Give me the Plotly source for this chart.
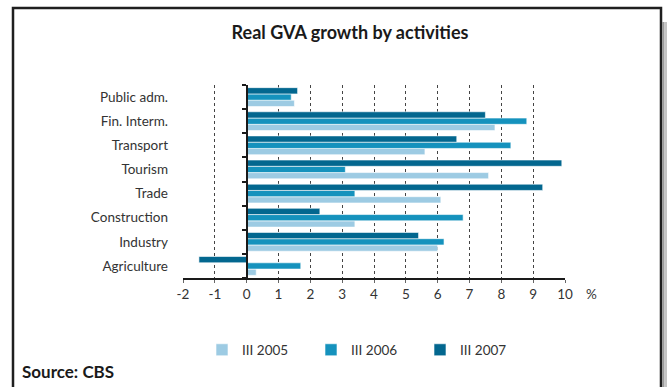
import plotly.graph_objects as go

# Activities, listed bottom to top as they appear on the chart
activities = ["Agriculture", "Industry", "Construction", "Trade",
              "Tourism", "Transport", "Fin. Interm.", "Public adm."]

# Real GVA growth, %
growth_2005 = [0.3, 6.0, 3.4, 6.1, 7.6, 5.6, 7.8, 1.5]
growth_2006 = [1.7, 6.2, 6.8, 3.4, 3.1, 8.3, 8.8, 1.4]
growth_2007 = [-1.5, 5.4, 2.3, 9.3, 9.9, 6.6, 7.5, 1.6]

series_names = ["III 2005", "III 2006", "III 2007"]
series_colors = ["#9dcbe3", "#1592bd", "#03678f"]
x_ticks = list(range(-2, 11))

W, H = 667, 387
ML, MR, MT, MB = 183, 102, 85, 109
PW, PH = W - ML - MR, H - MT - MB


def px_x(p):
    return (p - ML) / PW


def px_y(p):
    return (H - MB - p) / PH


FONT = "Lato, 'Open Sans', sans-serif"
TEXT = "#333333"

fig = go.Figure()
for name, vals, col in zip(series_names, [growth_2005, growth_2006, growth_2007], series_colors):
    fig.add_trace(go.Bar(
        y=activities, x=vals, name=name, orientation="h",
        marker=dict(color=col, line=dict(color="white", width=0.6)),
    ))

# invisible helper so the zero axis carries the category boundary ticks
fig.add_trace(go.Scatter(y=activities, x=[None] * len(activities), yaxis="y2",
                         mode="markers", showlegend=False, hoverinfo="skip"))

fig.update_layout(
    width=W, height=H,
    margin=dict(l=ML, r=MR, t=MT, b=MB),
    paper_bgcolor="white", plot_bgcolor="white",
    barmode="group", bargap=0.22, bargroupgap=0,
    font=dict(family=FONT, size=12, color=TEXT),
    title=dict(text="<b>Real GVA growth by activities</b>",
               x=350 / W, xref="container", xanchor="center",
               y=1 - 33 / H, yref="container", yanchor="middle",
               font=dict(family=FONT, size=18, color="#1a1a1a")),
    xaxis=dict(range=[-2, 10], tickvals=x_ticks, ticktext=[str(v) for v in x_ticks],
               showgrid=True, gridcolor="#444444", griddash="dot", gridwidth=1,
               zeroline=False, showline=True, linecolor="#1a1a1a", linewidth=2,
               ticks="outside", ticklen=3, tickcolor="#666666", tickwidth=1,
               tickfont=dict(size=13.5, color=TEXT), domain=[0, 1], fixedrange=True),
    yaxis=dict(type="category", categoryarray=activities, range=[-0.5, 7.5],
               showgrid=False, zeroline=False, showline=False, ticks="",
               ticklabelstandoff=14, tickfont=dict(size=13.5, color=TEXT), fixedrange=True),
    yaxis2=dict(type="category", categoryarray=activities, range=[-0.5, 7.5],
                overlaying="y", anchor="free", position=(0 - (-2)) / 12, side="left",
                showgrid=False, zeroline=False, showline=True, linecolor="#1a1a1a",
                linewidth=2, ticks="outside", tickson="boundaries", ticklen=4,
                tickcolor="#1a1a1a", tickwidth=1.5, showticklabels=False, fixedrange=True),
    legend=dict(orientation="h", x=px_x(202), xanchor="left",
                y=px_y(350), yanchor="middle", entrywidth=64,
                font=dict(size=13.5, color=TEXT), bgcolor="rgba(0,0,0,0)"),
    showlegend=True,
)

fig.add_annotation(text="%", xref="paper", x=px_x(591), yref="paper", y=px_y(294),
                   showarrow=False, xanchor="center", yanchor="middle",
                   font=dict(size=13.5, color=TEXT))
fig.add_annotation(text="<b>Source: CBS</b>", xref="paper", x=px_x(20), xanchor="left",
                   yref="paper", y=px_y(371), yanchor="middle", showarrow=False,
                   font=dict(size=17, color="#1a1a1a"))

# frame and its drop shadow
fig.add_shape(type="rect", xref="paper", yref="paper",
              x0=px_x(662.5), x1=px_x(664.5), y0=px_y(22), y1=px_y(420),
              line=dict(width=0), fillcolor="#9a9a9a", layer="below")
fig.add_shape(type="rect", xref="paper", yref="paper",
              x0=px_x(664.5), x1=px_x(668), y0=px_y(22), y1=px_y(420),
              line=dict(width=0), fillcolor="#c4c4c4", layer="below")
fig.add_shape(type="rect", xref="paper", yref="paper",
              x0=px_x(13), x1=px_x(661), y0=px_y(420), y1=px_y(8),
              line=dict(color="#1f1f1f", width=2.5), fillcolor="rgba(0,0,0,0)")

fig.write_html("out.html")
